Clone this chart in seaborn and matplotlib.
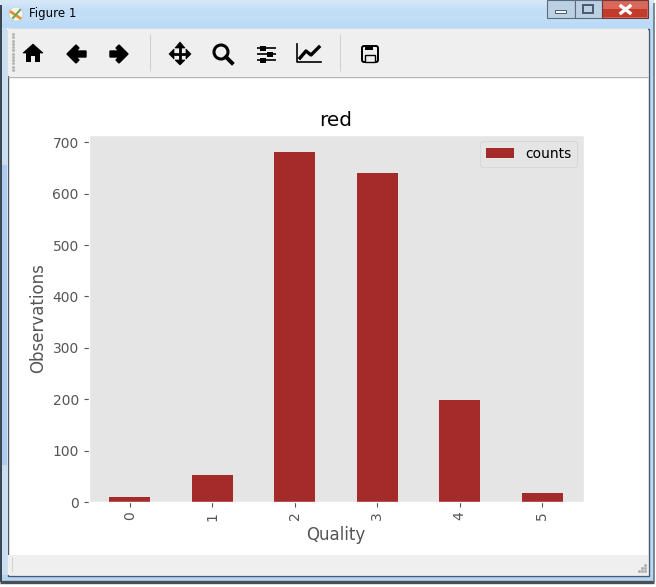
import matplotlib
matplotlib.use('Agg')
import matplotlib.pyplot as plt
from matplotlib.patches import Rectangle, Polygon, Circle, FancyBboxPatch
import numpy as np
import pandas as pd
import seaborn as sns

# chart values
quality = ['0', '1', '2', '3', '4', '5']
counts = [10, 53, 681, 640, 199, 18]
y_ticks = [0, 100, 200, 300, 400, 500, 600, 700]

plt.style.use('ggplot')
W, H = 656, 587
fig = plt.figure(figsize=(W / 100, H / 100), dpi=100)

# =============================================================================
# window frame around the plot, drawn in pixel coordinates
# =============================================================================
chrome = fig.add_axes([0, 0, 1, 1], zorder=0)
chrome.axis('off')


def box(x, y, w, h, color, edge='none', lw=0):
    chrome.add_patch(Rectangle((x, y), w, h, facecolor=color, edgecolor=edge, linewidth=lw))


def hline(x0, x1, y, lw=2, color='black'):
    chrome.plot([x0, x1], [y, y], color=color, lw=lw, solid_capstyle='butt')


def vline(x, y0, y1, lw=2, color='black'):
    chrome.plot([x, x], [y0, y1], color=color, lw=lw, solid_capstyle='butt')


# aero glass border
sky = np.array([[0.84, 0.91, 0.97], [0.74, 0.86, 0.97], [0.78, 0.88, 0.97], [0.72, 0.85, 0.97]])
chrome.imshow(sky[:, None, :].repeat(2, axis=1), extent=(0, 654, 28, 0), aspect='auto', interpolation='bicubic')
chrome.set_xlim(0, W)
chrome.set_ylim(H, 0)
box(1, 28, 6, 553, '#c8def3')
box(2, 165, 5, 300, '#a9ccf0')
box(648, 28, 6, 553, '#bcd8f4')
box(1, 575, 653, 6, '#b5d5f3')
vline(0.8, 5, 582, lw=1.4, color='#39424c')
hline(0, 654, 582, lw=2.4, color='#4a4f55')
vline(654.3, 3, 582, lw=1.2, color='#6b7682')
box(7.5, 28.5, 641, 547, 'white', edge='#4a5a6a', lw=1)

# toolbar and status bar
box(8, 29, 640, 47, '#efefef')
hline(8, 648, 76.5, lw=1, color='#b4b4b4')
box(8, 555, 640, 20, '#efefef')
vline(11.5, 557, 572, lw=0.8, color='#d4d4d4')
chrome.plot([13] * 12, np.linspace(34, 70, 12), ls='none', marker='s', ms=1, color='#b5b5b5')
vline(149.5, 34, 71, lw=0.8, color='#d0d0d0')
vline(339.5, 34, 71, lw=0.8, color='#d0d0d0')
grip_x = [645, 642, 645, 639, 642, 645]
grip_y = [565, 568, 568, 571, 571, 571]
chrome.plot(grip_x, grip_y, ls='none', marker='s', ms=1, color='#b0b0b0')

# title bar
chrome.add_patch(Circle((16, 14), 7, facecolor='#f5f5f5', edgecolor='#c8c8c8', lw=0.5))
chrome.plot([11, 20], [12, 18], color='#e8912c', lw=2)
chrome.plot([13, 20], [18, 10], color='#6aa84f', lw=1.5)
chrome.text(29, 14, 'Figure 1', fontsize=8.5, family='DejaVu Sans', color='black', va='center')

# minimise, maximise and close buttons
box(547, 0, 28, 18, '#bcd0e4', edge='#5b6b7b', lw=0.8)
box(575, 0, 27, 18, '#bcd0e4', edge='#5b6b7b', lw=0.8)
box(602, 0, 46, 18, '#d9675a', edge='#6b3a3a', lw=0.8)
box(603, 9, 44, 8, '#c23a2a')
box(555, 10, 11, 3, '#f4f7fa', edge='#4a5a6a', lw=0.7)
box(583, 5, 10, 8, 'none', edge='#4a5a6a', lw=1.4)
chrome.plot([621, 630], [6, 13], color='white', lw=2.4)
chrome.plot([621, 630], [13, 6], color='white', lw=2.4)

# toolbar icons
chrome.add_patch(Polygon([(23, 53), (33, 44), (43, 53)], color='black'))
box(26, 53, 14, 9, 'black')
box(31, 56, 4, 6, '#efefef')
chrome.add_patch(Polygon([(67, 54), (76, 45), (79, 48), (76, 51), (86, 51), (86, 57), (76, 57), (79, 60), (76, 63)], color='black', lw=1))
chrome.add_patch(Polygon([(128, 54), (119, 45), (116, 48), (119, 51), (110, 51), (110, 57), (119, 57), (116, 60), (119, 63)], color='black', lw=1))
hline(171, 189, 54)
vline(180, 45, 63)
for tip, base in [((169, 54), (174, 54)), ((191, 54), (186, 54))]:
    chrome.add_patch(Polygon([tip, (base[0], 49), (base[0], 59)], color='black'))
for tip, base in [((180, 42), 48), ((180, 65), 60)]:
    chrome.add_patch(Polygon([tip, (175, base), (185, base)], color='black'))
chrome.add_patch(Circle((221, 52), 7, facecolor='none', edgecolor='black', lw=2.2))
chrome.plot([226, 232], [57, 63], color='black', lw=2.8)
for y, x in [(48, 263), (54, 270), (60, 263)]:
    hline(257, 276, y, lw=1.2)
    box(x - 3, y - 2.5, 6, 5, 'black')
chrome.plot([297, 297, 321], [44, 62, 62], color='black', lw=1.2)
chrome.plot([300, 306, 311, 319], [58, 51, 55, 47], color='black', lw=2.4)
chrome.add_patch(FancyBboxPatch((362, 46), 16, 16, boxstyle='round,pad=0,rounding_size=2',
                                facecolor='none', edgecolor='black', lw=1.4))
box(365, 45, 8, 5, 'black')
box(365, 55, 10, 7, '#efefef', edge='black', lw=1)

# =============================================================================
# the bar chart itself
# =============================================================================
left, right, top, bottom = 88.5, 583.5, 134.5, 502
ax = fig.add_axes([left / W, 1 - bottom / H, (right - left) / W, (bottom - top) / H], zorder=1)

data = pd.DataFrame({'Quality': quality, 'counts': counts})
sns.barplot(data=data, x='Quality', y='counts', color='brown', saturation=1,
            width=0.5, label='counts', ax=ax)

ax.set_ylim(0, max(counts) * 1.05)
ax.set_yticks(y_ticks)
ax.grid(False)
ax.set_xlabel('Quality')
ax.set_ylabel('Observations')
ax.set_title('red', color='black', fontsize=14.4)
ax.tick_params(axis='x', labelrotation=90)
ax.legend(loc='upper right')

fig.savefig('out.png', dpi=100)
